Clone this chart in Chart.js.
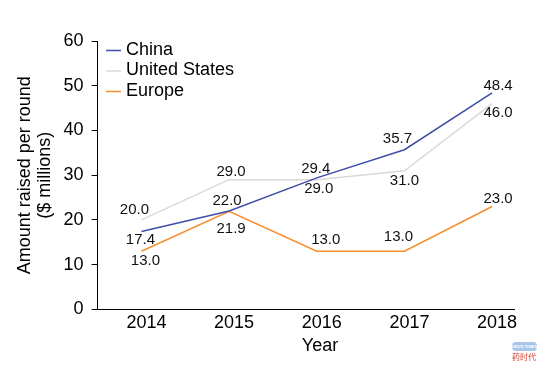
<!DOCTYPE html>
<html>
<head>
<meta charset="utf-8">
<script src="https://cdn.jsdelivr.net/npm/chart.js@4/dist/chart.umd.min.js"></script>
<style>
    body { margin: 0; background: #fff; }
    canvas { display: block; }
</style>
</head>
<body>
<canvas id="lineChart" width="559" height="373"></canvas>
<script>
// ================= DATA =================
const years = [2014, 2015, 2016, 2017, 2018];
const china = [17.4, 22.0, 29.4, 35.7, 48.4];
const unitedStates = [20.0, 29.0, 29.0, 31.0, 46.0];
const europe = [13.0, 21.9, 13.0, 13.0, 23.0];
const yTicks = [0, 10, 20, 30, 40, 50, 60];

// label nudges (px) for each point, same order as the series
const chinaNudge = [[-1, 8], [-2, -10], [-1, -9], [-7, -11], [6, -7]];
const usNudge = [[-7, -10], [2, -8], [2, 9], [0, 10], [6, 9]];
const europeNudge = [[4, 10], [2, 17], [9, -11], [-6, -14], [6, -8]];

const FONT = "'Liberation Sans', Arial, sans-serif";
Chart.defaults.font.family = FONT;
Chart.defaults.color = "#000";

function toPoints(values) {
    return years.map((yr, i) => ({ x: yr, y: values[i] }));
}

// ================= PLUGINS =================
const pointLabels = {
    id: "pointLabels",
    afterDatasetsDraw(chart) {
        let ctx = chart.ctx;
        ctx.save();
        ctx.font = "15px " + FONT;
        ctx.fillStyle = "#111";
        ctx.textAlign = "center";
        ctx.textBaseline = "middle";
        chart.data.datasets.forEach((ds, di) => {
            let meta = chart.getDatasetMeta(di);
            meta.data.forEach((el, i) => {
                let n = ds.nudge[i];
                ctx.fillText(ds.data[i].y.toFixed(1), el.x + n[0], el.y + n[1]);
            });
        });
        ctx.restore();
    }
};

const sideLegend = {
    id: "sideLegend",
    afterDraw(chart) {
        let ctx = chart.ctx;
        ctx.save();
        ctx.font = "18px " + FONT;
        ctx.textAlign = "left";
        ctx.textBaseline = "middle";
        chart.data.datasets.forEach((ds, i) => {
            let y = 50 + i * 20.5;
            ctx.strokeStyle = ds.borderColor;
            ctx.lineWidth = 1.5;
            ctx.beginPath();
            ctx.moveTo(106, y + 0.5);
            ctx.lineTo(121, y + 0.5);
            ctx.stroke();
            ctx.fillStyle = "#000";
            ctx.fillText(ds.label, 126, y);
        });

        // x axis title
        ctx.textAlign = "center";
        ctx.fillText("Year", 320, 346);

        // small watermark
        ctx.fillStyle = "#a9c6e8";
        ctx.beginPath();
        ctx.roundRect(512, 342, 25, 9, 4);
        ctx.fill();
        ctx.fillStyle = "#fff";
        ctx.font = "bold 4px " + FONT;
        ctx.fillText("DRUG TIMES", 524.5, 346.5);
        ctx.fillStyle = "#d23b2f";
        ctx.font = "8px 'Noto Sans CJK SC'";
        ctx.fillText("药时代", 524, 357);
        ctx.restore();
    }
};

// ================= CHART =================
new Chart(document.getElementById("lineChart"), {
    type: "line",
    data: {
        datasets: [
            { label: "China", data: toPoints(china), nudge: chinaNudge, borderColor: "#3f4ea6" },
            { label: "United States", data: toPoints(unitedStates), nudge: usNudge, borderColor: "#d9d9d9" },
            { label: "Europe", data: toPoints(europe), nudge: europeNudge, borderColor: "#f78d2b" }
        ]
    },
    options: {
        responsive: false,
        devicePixelRatio: 1,
        animation: false,
        layout: { padding: { left: 14, right: 45, top: 41, bottom: 36 } },
        elements: {
            line: { borderWidth: 1.5, tension: 0, fill: false },
            point: { radius: 0, hoverRadius: 0 }
        },
        plugins: {
            legend: { display: false },
            tooltip: { enabled: false }
        },
        scales: {
            x: {
                type: "linear",
                min: 2013.5,
                max: 2018.25,
                afterBuildTicks: axis => { axis.ticks = years.map(v => ({ value: v })); },
                ticks: {
                    font: { size: 18 },
                    padding: 3,
                    labelOffset: 5,
                    maxRotation: 0,
                    callback: v => String(v)
                },
                grid: { display: false, drawTicks: false },
                border: { display: true, color: "#000", width: 1 }
            },
            y: {
                min: 0,
                max: 60,
                afterBuildTicks: axis => { axis.ticks = yTicks.map(v => ({ value: v })); },
                ticks: { font: { size: 18 }, padding: 8 },
                grid: { display: true, drawOnChartArea: false, drawTicks: true, tickLength: 6, color: "#000" },
                border: { display: true, color: "#000", width: 1 },
                title: {
                    display: true,
                    text: ["Amount raised per round", "($ millions)"],
                    font: { size: 18, lineHeight: 1.1 },
                    padding: { top: 1, bottom: 1 }
                }
            }
        }
    },
    plugins: [pointLabels, sideLegend]
});
</script>
</body>
</html>
